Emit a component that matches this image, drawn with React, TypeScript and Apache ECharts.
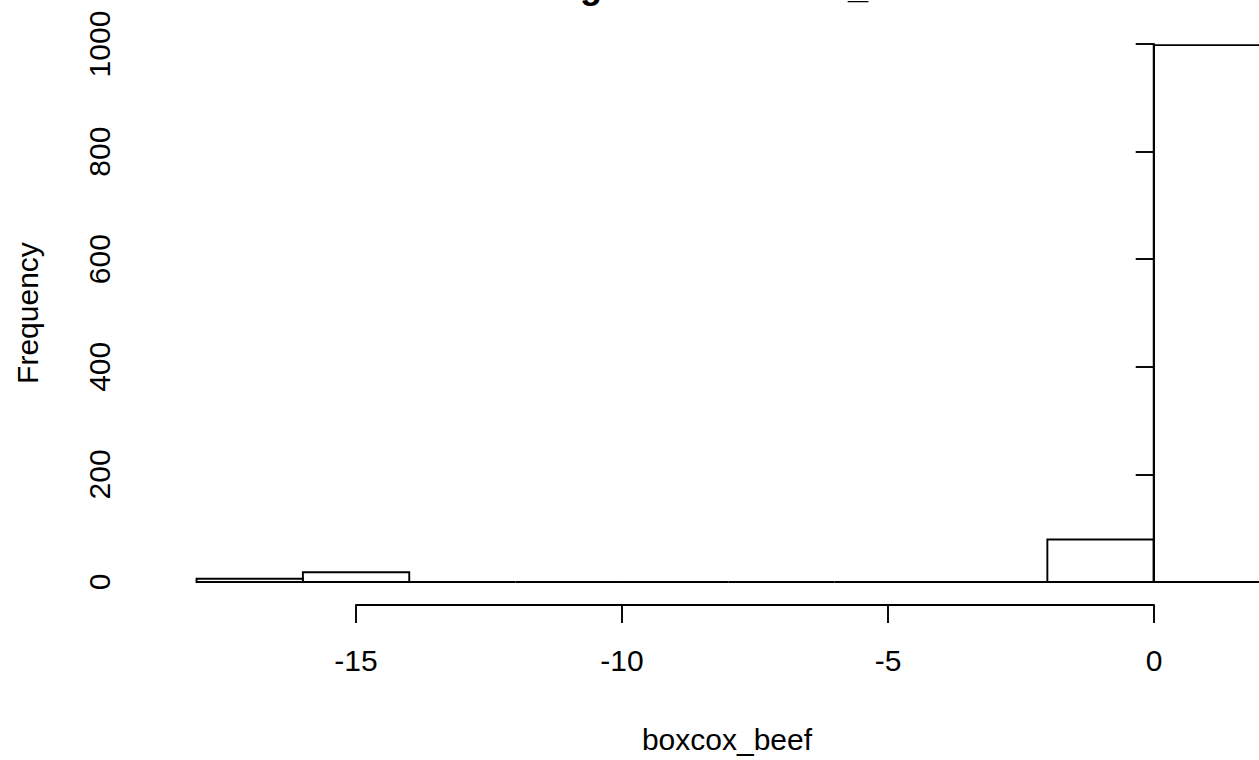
import React, { useEffect, useRef } from "react";
import * as echarts from "echarts";

const binStarts = [-18, -16, -14, -12, -10, -8, -6, -4, -2, 0];
const binEnds = [-16, -14, -12, -10, -8, -6, -4, -2, 0, 2];
const counts = [6, 18, 0, 0, 0, 0, 0, 0, 79, 998];
const xTicks = { min: -15, max: 0, interval: 5 };
const yTicks = { min: 0, max: 1000, interval: 200 };
const titleText = "Histogram of boxcox_beef";
const xLabel = "boxcox_beef";
const yLabel = "Frequency";

const FONT = "'Liberation Sans', Arial, sans-serif";

export default function App() {
  const ref = useRef<HTMLDivElement>(null);
  useEffect(() => {
    if (!ref.current) return;
    const chart = echarts.init(ref.current, undefined, { renderer: "svg" });
    const data = binStarts.map((s, i) => [s, binEnds[i], counts[i]]);
    chart.setOption({
      animation: false,
      backgroundColor: "#fff",
      textStyle: { fontFamily: FONT, color: "#000" },
      graphic: [
        {
          type: "text",
          x: 716,
          y: -15,
          style: {
            text: titleText,
            fontFamily: FONT,
            fontWeight: "bold",
            fontSize: 36,
            fill: "#000",
            textAlign: "center",
            textVerticalAlign: "middle",
          },
        },
        {
          type: "text",
          x: 727,
          y: 739,
          style: {
            text: xLabel,
            fontFamily: FONT,
            fontSize: 30,
            fill: "#000",
            textAlign: "center",
            textVerticalAlign: "middle",
          },
        },
      ],
      grid: [
        { left: 154, right: 0, top: 44, bottom: 178 },
        { left: 356, right: 105, top: 604, bottom: 155 },
      ],
      xAxis: [
        {
          gridIndex: 0,
          type: "value",
          min: -18.8,
          max: 1.98,
          show: false,
          splitLine: { show: false },
        },
        {
          gridIndex: 1,
          type: "value",
          min: xTicks.min,
          max: xTicks.max,
          interval: xTicks.interval,
          axisLine: { show: true, lineStyle: { color: "#000", width: 1.9 } },
          axisTick: { show: true, length: 18, lineStyle: { color: "#000", width: 1.9 } },
          axisLabel: { fontFamily: FONT, fontSize: 30, color: "#000", margin: 40 },
          splitLine: { show: false },
        },
      ],
      yAxis: [
        {
          gridIndex: 0,
          type: "value",
          min: yTicks.min,
          max: yTicks.max,
          interval: yTicks.interval,
          axisLine: { show: true, lineStyle: { color: "#000", width: 1.9 } },
          axisTick: { show: true, length: 18, lineStyle: { color: "#000", width: 1.9 } },
          axisLabel: {
            fontFamily: FONT,
            fontSize: 30,
            color: "#000",
            margin: 40,
            rotate: 90,
            formatter: (v: number) => String(v),
          },
          splitLine: { show: false },
          name: yLabel,
          nameLocation: "middle",
          nameGap: 112,
          nameRotate: 90,
          nameTextStyle: { fontFamily: FONT, fontSize: 30, color: "#000" },
        },
        {
          gridIndex: 1,
          type: "value",
          show: false,
        },
      ],
      series: [
        {
          type: "custom",
          xAxisIndex: 0,
          yAxisIndex: 0,
          clip: false,
          data,
          encode: { x: [0, 1], y: 2 },
          renderItem: (params: any, api: any) => {
            const p0 = api.coord([api.value(0), api.value(2)]);
            const p1 = api.coord([api.value(1), 0]);
            return {
              type: "rect",
              shape: { x: p0[0], y: p0[1], width: p1[0] - p0[0], height: p1[1] - p0[1] },
              style: { fill: "rgba(0,0,0,0)", stroke: "#000", lineWidth: 1.9 },
            };
          },
        },
      ],
    });
    return () => chart.dispose();
  }, []);
  return (
    <div
      ref={ref}
      style={{ position: "absolute", left: 0, top: 0, width: 1259, height: 760 }}
    />
  );
}
